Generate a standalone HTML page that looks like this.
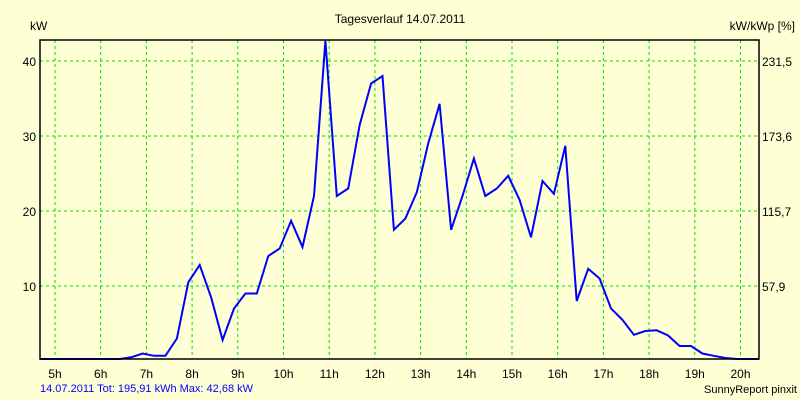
<!DOCTYPE html>
<html><head><meta charset="utf-8"><style>
html,body{margin:0;padding:0;background:#ffffd6;}
svg{display:block;font-family:"Liberation Sans",sans-serif;}
</style></head><body>
<svg id="chart" width="800" height="400">
<rect x="0" y="0" width="800" height="400" fill="#ffffd6"/>
<text x="400" y="23" font-size="12" text-anchor="middle" fill="#000">Tagesverlauf 14.07.2011</text>
<text x="30" y="30" font-size="12" fill="#000">kW</text>
<text x="795" y="30" font-size="12" text-anchor="end" fill="#000">kW/kWp [%]</text>
<text x="40" y="392" font-size="11" fill="#0000ff">14.07.2011 Tot: 195,91 kWh Max: 42,68 kW</text>
<text x="797" y="393" font-size="11" text-anchor="end" fill="#000">SunnyReport pinxit</text>
<g id="grid"></g>
<g id="axes"></g>
<g id="series"></g>
<rect x="40" y="40" width="719" height="319" fill="none" stroke="#000" stroke-width="1.5"/>
</svg>
<script>
const hourTicks = [5,6,7,8,9,10,11,12,13,14,15,16,17,18,19,20];
const kwTicks = [10,20,30,40];
const pctTicks = ["57,9","115,7","173,6","231,5"];
const times = ["4:40","6:25","6:40","6:55","7:10","7:25","7:40","7:55","8:10","8:25","8:40","8:55","9:10","9:25","9:40","9:55","10:10","10:25","10:40","10:55","11:10","11:25","11:40","11:55","12:10","12:25","12:40","12:55","13:10","13:25","13:40","13:55","14:10","14:25","14:40","14:55","15:10","15:25","15:40","15:55","16:10","16:25","16:40","16:55","17:10","17:25","17:40","17:55","18:10","18:25","18:40","18:55","19:10","19:25","19:40","19:55","20:10","20:24"];
const power = [0,0,0.5,1.0,0.7,0.7,3,10.5,12.8,8.5,2.8,7,9,9,14,15,18.7,15.2,22,42.7,22,23,31.5,37,38,17.5,19,22.5,29,34.3,17.5,22,27,22,23,24.7,21.5,16.5,24,22.3,28.7,8,12.3,11,7,5.5,3.5,4,4.1,3.4,2,2,1,0.7,0.4,0.1,0,0];

const NS="http://www.w3.org/2000/svg";
const L=40,R=759,T=40,B=359;
function xOf(h){return 55+(h-5)*45.7;}
function yOf(v){return Math.min(B,361-v*7.5);}
function toH(t){const p=t.split(":");return +p[0]+(+p[1])/60;}
const grid=document.getElementById("grid"),axes=document.getElementById("axes"),series=document.getElementById("series");
hourTicks.forEach(h=>{
  const x=xOf(h);
  const ln=document.createElementNS(NS,"line");
  ln.setAttribute("x1",x);ln.setAttribute("x2",x);ln.setAttribute("y1",T);ln.setAttribute("y2",B);
  ln.setAttribute("stroke","#00e000");ln.setAttribute("stroke-dasharray","3,3");
  
  
  grid.appendChild(ln);
  const tx=document.createElementNS(NS,"text");
  tx.setAttribute("x",x);tx.setAttribute("y",378);tx.setAttribute("font-size","12");tx.setAttribute("text-anchor","middle");
  tx.textContent=h+"h";
  
  
  axes.appendChild(tx);
});
kwTicks.forEach((v,i)=>{
  const y=361-v*7.5;
  const ln=document.createElementNS(NS,"line");
  ln.setAttribute("x1",L);ln.setAttribute("x2",R);ln.setAttribute("y1",y);ln.setAttribute("y2",y);
  ln.setAttribute("stroke","#00e000");ln.setAttribute("stroke-dasharray","3,3");
  
  
  grid.appendChild(ln);
  const tl=document.createElementNS(NS,"text");
  tl.setAttribute("x",36);tl.setAttribute("y",y+5);tl.setAttribute("font-size","12");tl.setAttribute("text-anchor","end");
  tl.textContent=v;
  
  
  axes.appendChild(tl);
  const tr=document.createElementNS(NS,"text");
  tr.setAttribute("x",762);tr.setAttribute("y",y+5);tr.setAttribute("font-size","12");
  tr.textContent=pctTicks[i];
  
  
  axes.appendChild(tr);
});
const pts=times.map((t,i)=>xOf(toH(t)).toFixed(1)+","+yOf(power[i]).toFixed(1)).join(" ");
const pl=document.createElementNS(NS,"polyline");
pl.setAttribute("points",pts);pl.setAttribute("fill","none");pl.setAttribute("stroke","#0000ff");pl.setAttribute("stroke-width","2");


series.appendChild(pl);
</script>
</body></html>
